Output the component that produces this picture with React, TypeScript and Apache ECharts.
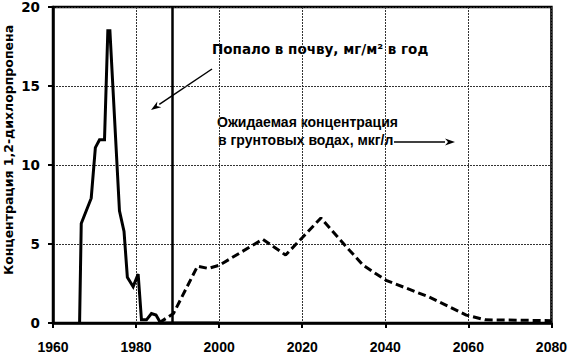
import React, { useEffect, useRef } from "react";
import * as echarts from "echarts";

// Solid series: amount applied to soil, mg/m² per year
const appliedYears = [1966.4, 1966.8, 1969.2, 1970.2, 1971.2, 1972.4, 1973.2, 1973.7, 1976.0, 1977.1, 1977.9, 1979.3, 1980.5, 1981.3, 1982.5, 1983.7, 1984.8, 1985.9, 2000];
const appliedValues = [0, 6.3, 7.9, 11.1, 11.6, 11.6, 18.5, 18.5, 7.1, 5.8, 2.9, 2.3, 3.1, 0.2, 0.2, 0.6, 0.5, 0, 0];

// Dashed series: expected concentration in groundwater, µg/l
const groundYears = [1985.5, 1989.0, 1994.8, 1997.4, 2000.0, 2010.5, 2016.0, 2020.0, 2024.5, 2030.7, 2034.7, 2040.2, 2050.5, 2059.5, 2064.0, 2080.0];
const groundValues = [0, 0.6, 3.6, 3.45, 3.65, 5.3, 4.3, 5.4, 6.65, 4.8, 3.65, 2.7, 1.65, 0.5, 0.2, 0.15];

const markerYear = 1988.6;

const xTicks = [1960, 1980, 2000, 2020, 2040, 2060, 2080];
const yTicks = [0, 5, 10, 15, 20];

const yAxisTitle = "Концентрация 1,2-дихлорпропена";
const note1 = "Попало в почву, мг/м² в год";
const note2a = "Ожидаемая концентрация";
const note2b = "в грунтовых водах, мкг/л";

function arrow(x1: number, y1: number, x2: number, y2: number, len = 10, half = 3.5) {
  const dx = x2 - x1;
  const dy = y2 - y1;
  const L = Math.hypot(dx, dy);
  const ux = dx / L;
  const uy = dy / L;
  const bx = x2 - ux * len;
  const by = y2 - uy * len;
  const px = -uy;
  const py = ux;
  return [
    {
      type: "line",
      shape: { x1, y1, x2: bx, y2: by },
      style: { stroke: "#000", lineWidth: 1.5 },
    },
    {
      type: "polygon",
      shape: {
        points: [
          [x2, y2],
          [bx + px * half, by + py * half],
          [x2 - ux * len * 0.7, y2 - uy * len * 0.7],
          [bx - px * half, by - py * half],
        ],
      },
      style: { fill: "#000" },
    },
  ];
}

export default function App() {
  const ref = useRef<HTMLDivElement>(null);
  useEffect(() => {
    if (!ref.current) return;
    const chart = echarts.init(ref.current, null, { renderer: "svg" });
    const labelFont = "Liberation Sans";
    const wideFont = "DejaVu Sans";
    const noteStyle = {
      fill: "#000",
      fontFamily: labelFont,
      fontWeight: "bold",
      fontSize: 14,
    };
    chart.setOption({
      animation: false,
      backgroundColor: "#fff",
      grid: {
        left: 53,
        right: 13,
        top: 5,
        bottom: 32,
        show: true,
        borderColor: "#000",
        borderWidth: 2.5,
        backgroundColor: "transparent",
      },
      xAxis: {
        type: "value",
        min: xTicks[0],
        max: xTicks[xTicks.length - 1],
        interval: 20,
        axisLine: { show: true, lineStyle: { color: "#000", width: 2.5 } },
        axisTick: { show: true, length: 5, lineStyle: { color: "#000", width: 2 } },
        axisLabel: {
          color: "#000",
          fontFamily: labelFont,
          fontWeight: "bold",
          fontSize: 14,
          margin: 17,
          showMinLabel: true,
          showMaxLabel: true,
          formatter: (v: number) => String(v),
        },
        splitLine: { show: true, lineStyle: { color: "#333", width: 1, type: [2, 1] } },
      },
      yAxis: {
        type: "value",
        min: yTicks[0],
        max: yTicks[yTicks.length - 1],
        interval: 5,
        axisLine: { show: true, lineStyle: { color: "#000", width: 2.5 } },
        axisTick: { show: true, length: 5, lineStyle: { color: "#000", width: 2 } },
        axisLabel: {
          color: "#000",
          fontFamily: wideFont,
          fontWeight: "bold",
          fontSize: 13.5,
          margin: 13,
          formatter: (v: number) => String(v),
        },
        splitLine: { show: true, lineStyle: { color: "#333", width: 1, type: [2, 1] } },
      },
      series: [
        {
          type: "line",
          data: appliedYears.map((x, i) => [x, appliedValues[i]]),
          symbol: "none",
          lineStyle: { color: "#000", width: 3, join: "miter" },
          z: 3,
          markLine: {
            silent: true,
            symbol: "none",
            label: { show: false },
            lineStyle: { color: "#000", width: 2.5, type: "solid" },
            data: [{ xAxis: markerYear }],
          },
        },
        {
          type: "line",
          data: groundYears.map((x, i) => [x, groundValues[i]]),
          symbol: "none",
          lineStyle: { color: "#000", width: 3, type: [8, 4] },
          z: 3,
        },
      ],
      graphic: [
        {
          type: "text",
          x: 8.5,
          y: 150,
          rotation: Math.PI / 2,
          style: {
            ...noteStyle,
            fontFamily: wideFont,
            fontSize: 12.5,
            text: yAxisTitle,
            align: "center",
            verticalAlign: "middle",
          },
        },
        {
          type: "text",
          x: 212,
          y: 49,
          style: { ...noteStyle, fontFamily: wideFont, fontSize: 13.5, text: note1, align: "left", verticalAlign: "middle" },
        },
        {
          type: "text",
          x: 217,
          y: 122,
          style: { ...noteStyle, text: note2a, align: "left", verticalAlign: "middle" },
        },
        {
          type: "text",
          x: 218,
          y: 140,
          style: { ...noteStyle, text: note2b, align: "left", verticalAlign: "middle" },
        },
        ...arrow(212, 69, 151, 110),
        ...arrow(394, 142, 455, 142),
      ],
    });
    return () => chart.dispose();
  }, []);
  return <div ref={ref} style={{ width: 570, height: 355, position: "absolute", left: 0, top: 0 }} />;
}
